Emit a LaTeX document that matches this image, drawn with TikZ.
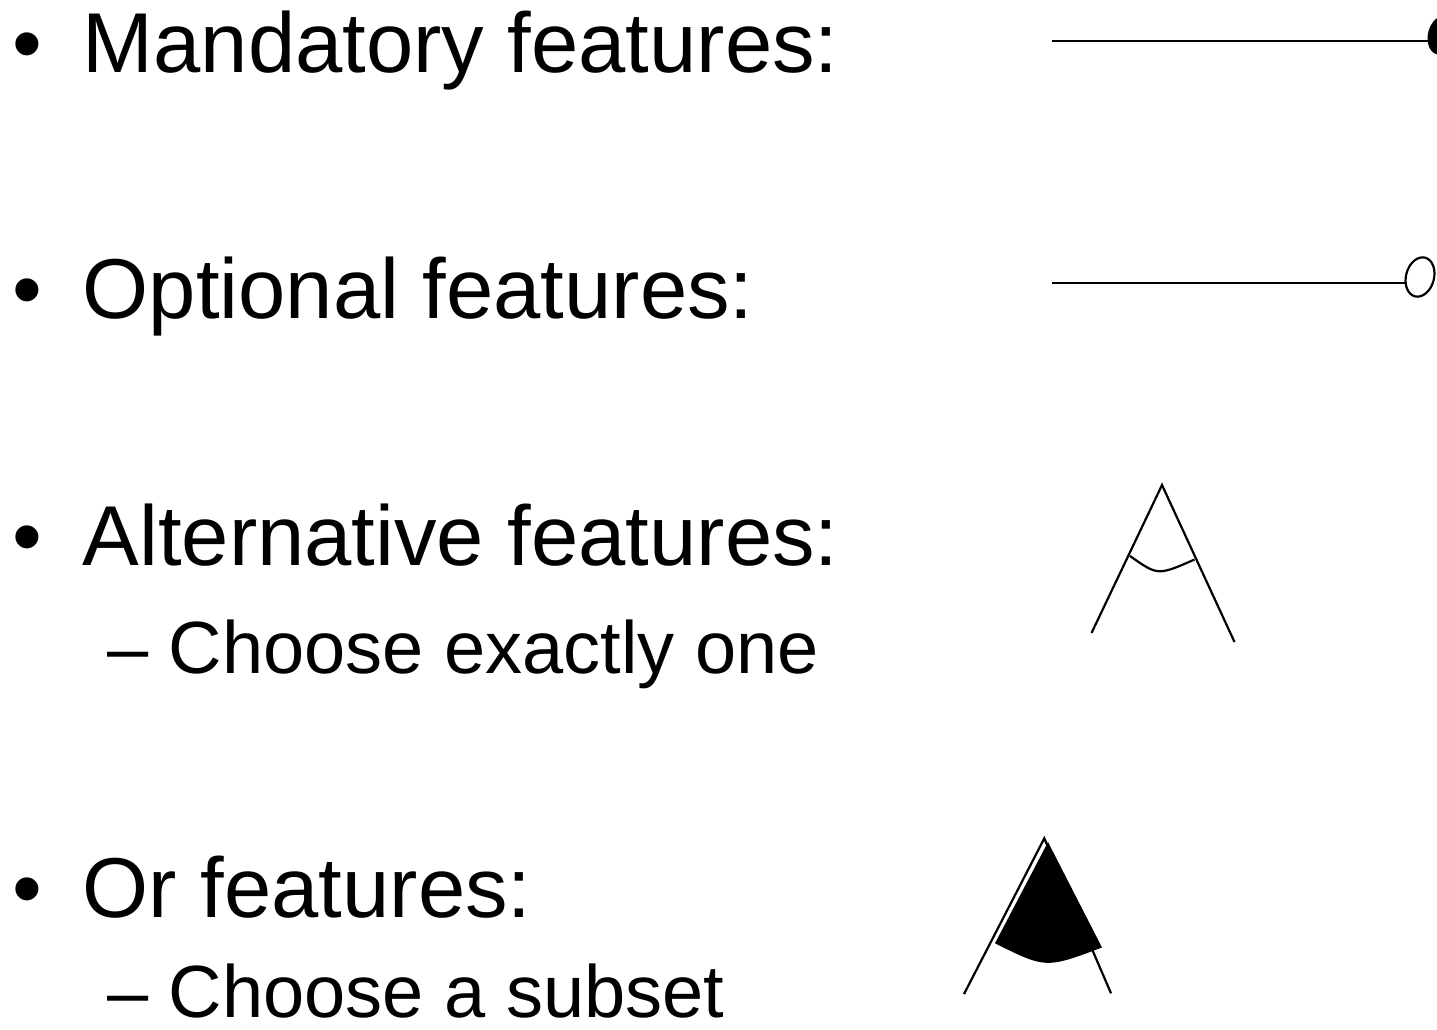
\documentclass[tikz,border=0pt]{standalone}
\usepackage{fontspec}
\setmainfont{Liberation Sans}
\begin{document}
\begin{tikzpicture}[x=1pt,y=-1pt,
  mainitem/.style={anchor=base west,inner sep=0pt,font=\fontsize{85}{100}\selectfont},
  subitem/.style={anchor=base west,inner sep=0pt,font=\fontsize{74}{88}\selectfont},
  bul/.style={anchor=base,inner sep=0pt,font=\fontsize{85}{100}\selectfont},
  sym/.style={line width=2.2pt,black}]
\useasboundingbox (0,0) rectangle (1437,1029);
\clip (0,0) rectangle (1437,1029);
% bullets
\node[bul] (b1) at (27,72) {•};
\node[bul] (b2) at (27,318) {•};
\node[bul] (b3) at (27,565) {•};
\node[bul] (b4) at (27,917) {•};
% texts
\node[mainitem] (t1) at (82.5,72) {Mandatory features:};
\node[mainitem] (t2) at (82.5,318) {Optional features:};
\node[mainitem] (t3) at (82.5,565) {Alternative features:};
\node[subitem] (s3) at (107,673) {– Choose exactly one};
\node[mainitem] (t4) at (82.5,917) {Or features:};
\node[subitem,text depth=1pt] (s4) at (107,1017) {– Choose a subset};
% mandatory
\coordinate (m0) at (1052,41);
\coordinate (m1) at (1429,41);
\coordinate (mc) at (1442,35);
\draw[sym] (m0) -- (m1);
\fill[rotate around={-15:(mc)}] (mc) ellipse [x radius=14, y radius=20];
% optional
\coordinate (o0) at (1052,283);
\coordinate (o1) at (1405,283);
\coordinate (oc) at (1420,277);
\draw[sym] (o0) -- (o1);
\draw[sym,rotate around={-15:(oc)}] (oc) ellipse [x radius=14, y radius=20];
% alternative
\coordinate (aA) at (1162,485);
\coordinate (aL) at (1091.5,633);
\coordinate (aR) at (1234.5,642);
\coordinate (a1) at (1130,556);
\coordinate (a2) at (1194.5,559.5);
\draw[sym] (aL) -- (aA) -- (aR);
\draw[sym] (a1) .. controls (1157.8,575.7) .. (a2);
% or
\coordinate (rA) at (1044.3,838.3);
\coordinate (rL) at (964,994);
\coordinate (rR) at (1111,993.3);
\coordinate (fA) at (1048,842);
\coordinate (fL) at (995,943.3);
\coordinate (fR) at (1102,947.5);
\draw[sym] (rL) -- (rA) -- (rR);
\fill (fA) -- (fL) .. controls (1045.8,968.6) .. (fR) -- cycle;
\end{tikzpicture}
\end{document}
